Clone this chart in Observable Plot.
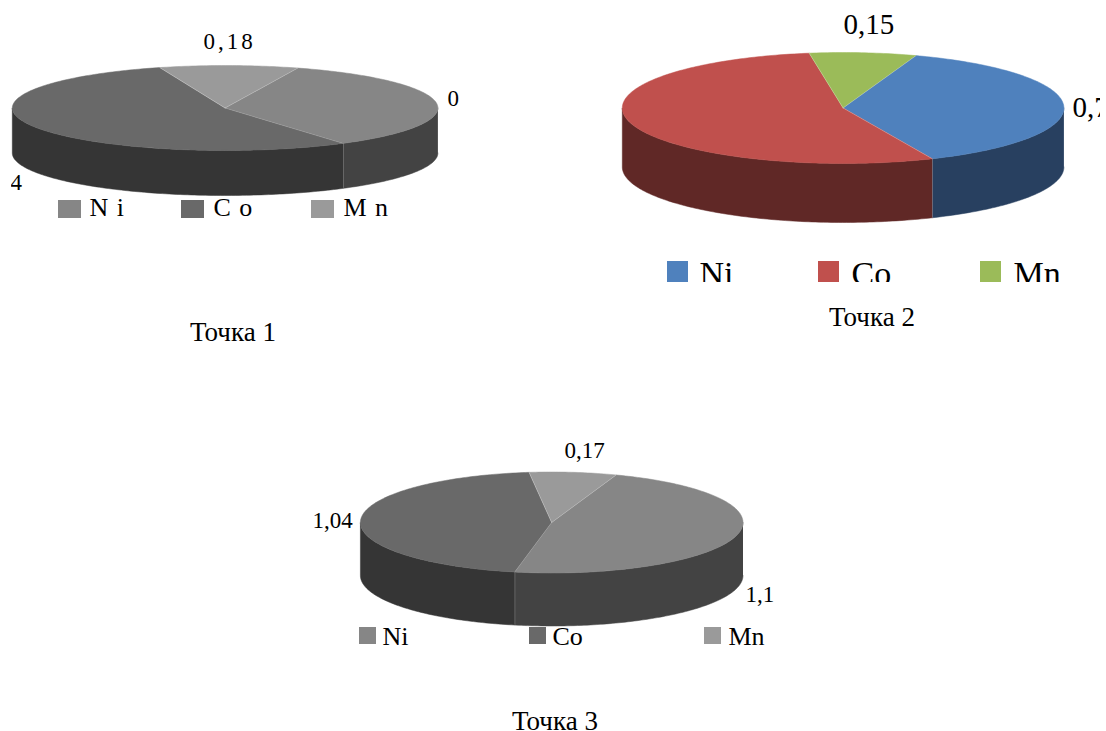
<!DOCTYPE html>
<html>
<head>
<meta charset="utf-8">
<script src="https://cdn.jsdelivr.net/npm/d3@7"></script>
<script src="https://cdn.jsdelivr.net/npm/@observablehq/plot@0.6"></script>
<style>
html,body{margin:0;padding:0;background:#fff}
svg{display:block}
</style>
</head>
<body>
<div id="chart"></div>
<script>
const components = ["Ni", "Co", "Mn"];
const captions = ["Точка 1", "Точка 2", "Точка 3"];
const point1Values = [0.60, 0.93, 0.18];
const point2Values = [0.73, 1.04, 0.15];
const point3Values = [1.10, 1.04, 0.17];
const point1Labels = ["0", "4", "0,18"];
const point2Labels = ["0,7", "0,15"];
const point3Labels = ["1,1", "1,04", "0,17"];
const legend1Labels = ["N i", "C o", "M n"];

const grayTop = ["#868686", "#696969", "#9a9a9a"];
const graySide = ["#434343", "#353535", "#4d4d4d"];
const colorTop = ["#4f81bd", "#c0504d", "#9bbb59"];
const colorSide = ["#284060", "#602826", "#4e5e2c"];

// Layout of each pie (separate from the data)
const pies = [
  {values: point1Values, cx: 224.6, cy: 107.5, rx: 212.8, ry: 42.5, depth: 45, start: 20, top: grayTop, side: graySide},
  {values: point2Values, cx: 842.6, cy: 107.5, rx: 220.8, ry: 55.5, depth: 59, start: 19.3, top: colorTop, side: colorSide},
  {values: point3Values, cx: 551.2, cy: 522, rx: 191.3, ry: 50.5, depth: 53, start: 19.7, top: grayTop, side: graySide}
];

const serif = "'Liberation Serif','Times New Roman',serif";
const marks = [];

function at(p, deg, drop = 0) {
  const t = deg * Math.PI / 180;
  return {x: p.cx + p.rx * Math.sin(t), y: p.cy - p.ry * Math.cos(t) + drop};
}
function arc(p, a, b, drop = 0) {
  const out = [];
  const n = Math.max(1, Math.ceil(Math.abs(b - a)));
  for (let i = 0; i <= n; i++) out.push(at(p, a + (b - a) * i / n, drop));
  return out;
}

for (const p of pies) {
  const total = d3.sum(p.values);
  let a = p.start;
  const spans = p.values.map((v) => {
    const s = {a, b: a + v / total * 360};
    a = s.b;
    return s;
  });
  // walls
  spans.forEach((s, i) => {
    const lo = Math.max(s.a, 90), hi = Math.min(s.b, 270);
    if (hi <= lo) return;
    const poly = [...arc(p, lo, hi), ...arc(p, hi, lo, p.depth)];
    marks.push(Plot.line(poly, {x: "x", y: "y", fill: p.side[i], stroke: p.side[i], strokeWidth: 0.5}));
    if (s.b < 270) {
      marks.push(Plot.line([at(p, s.b), at(p, s.b, p.depth)], {x: "x", y: "y", stroke: "#fff", strokeOpacity: 0.4, strokeWidth: 0.7}));
    }
  });
  // top
  spans.forEach((s, i) => {
    const poly = [{x: p.cx, y: p.cy}, ...arc(p, s.a, s.b)];
    marks.push(Plot.line(poly, {x: "x", y: "y", fill: p.top[i], stroke: p.top[i], strokeWidth: 0.5}));
  });
  spans.forEach((s) => {
    marks.push(Plot.line([{x: p.cx, y: p.cy}, at(p, s.a)], {x: "x", y: "y", stroke: "#fff", strokeOpacity: 0.3, strokeWidth: 0.7}));
  });
}

function label(text, x, y, size, anchor = "start") {
  marks.push(Plot.text([text], {
    x: () => x, y: () => y, text: (d) => d, fontSize: size, fontFamily: serif,
    fill: "#000", textAnchor: anchor, lineAnchor: "bottom", dy: 0
  }));
}
function swatch(x, y, w, h, fill) {
  marks.push(Plot.rect([0], {x1: () => x, x2: () => x + w, y1: () => y, y2: () => y + h, fill}));
}

// Point 1 labels
label(point1Labels[2], 203, 48, 23);
label(point1Labels[0], 447, 105, 23);
label(point1Labels[1], 10, 189, 23);
[[58, 89], [181, 213], [311, 343]].forEach(([sx, tx], i) => {
  swatch(sx, 200, 23, 18, grayTop[i]);
  label(legend1Labels[i], tx, 215, 26);
});
label(captions[0], 232.5, 340, 27, "middle");

// Point 2 labels
label(point2Labels[1], 843, 33, 29);
label(point2Labels[0], 1072, 116, 29);
[[667, 699], [818, 851], [980, 1013]].forEach(([sx, tx], i) => {
  swatch(sx, 261, 21, 22, colorTop[i]);
  label(components[i], tx, 284, 34);
});
label(captions[1], 871.5, 325, 27, "middle");

// Point 3 labels
label(point3Labels[2], 564, 457, 23);
label(point3Labels[1], 312, 527, 23);
label(point3Labels[0], 745, 601, 23);
[[359, 382], [529, 552], [704, 728]].forEach(([sx, tx], i) => {
  swatch(sx, 627, 17, 17, grayTop[i]);
  label(components[i], tx, 644, 26);
});
label(captions[2], 554.5, 729, 27, "middle");

// Crop edges of the original picture
swatch(0, 170, 11, 30, "#fff");
swatch(1100, 80, 6, 60, "#fff");
swatch(660, 282, 420, 16, "#fff");

const plot = Plot.plot({
  width: 1106,
  height: 731,
  margin: 0,
  x: {type: "linear", domain: [0, 1106], range: [0, 1106], axis: null},
  y: {type: "linear", domain: [0, 731], range: [0, 731], axis: null},
  style: {background: "#fff"},
  marks
});

const spaced = new Map([["0,18", "3px"], ["N i", "1px"], ["C o", "1px"], ["M n", "1px"]]);
d3.select(plot).selectAll("text").each(function () {
  const s = spaced.get(this.textContent);
  if (s) this.style.letterSpacing = s;
});
document.getElementById("chart").append(plot);
</script>
</body>
</html>
